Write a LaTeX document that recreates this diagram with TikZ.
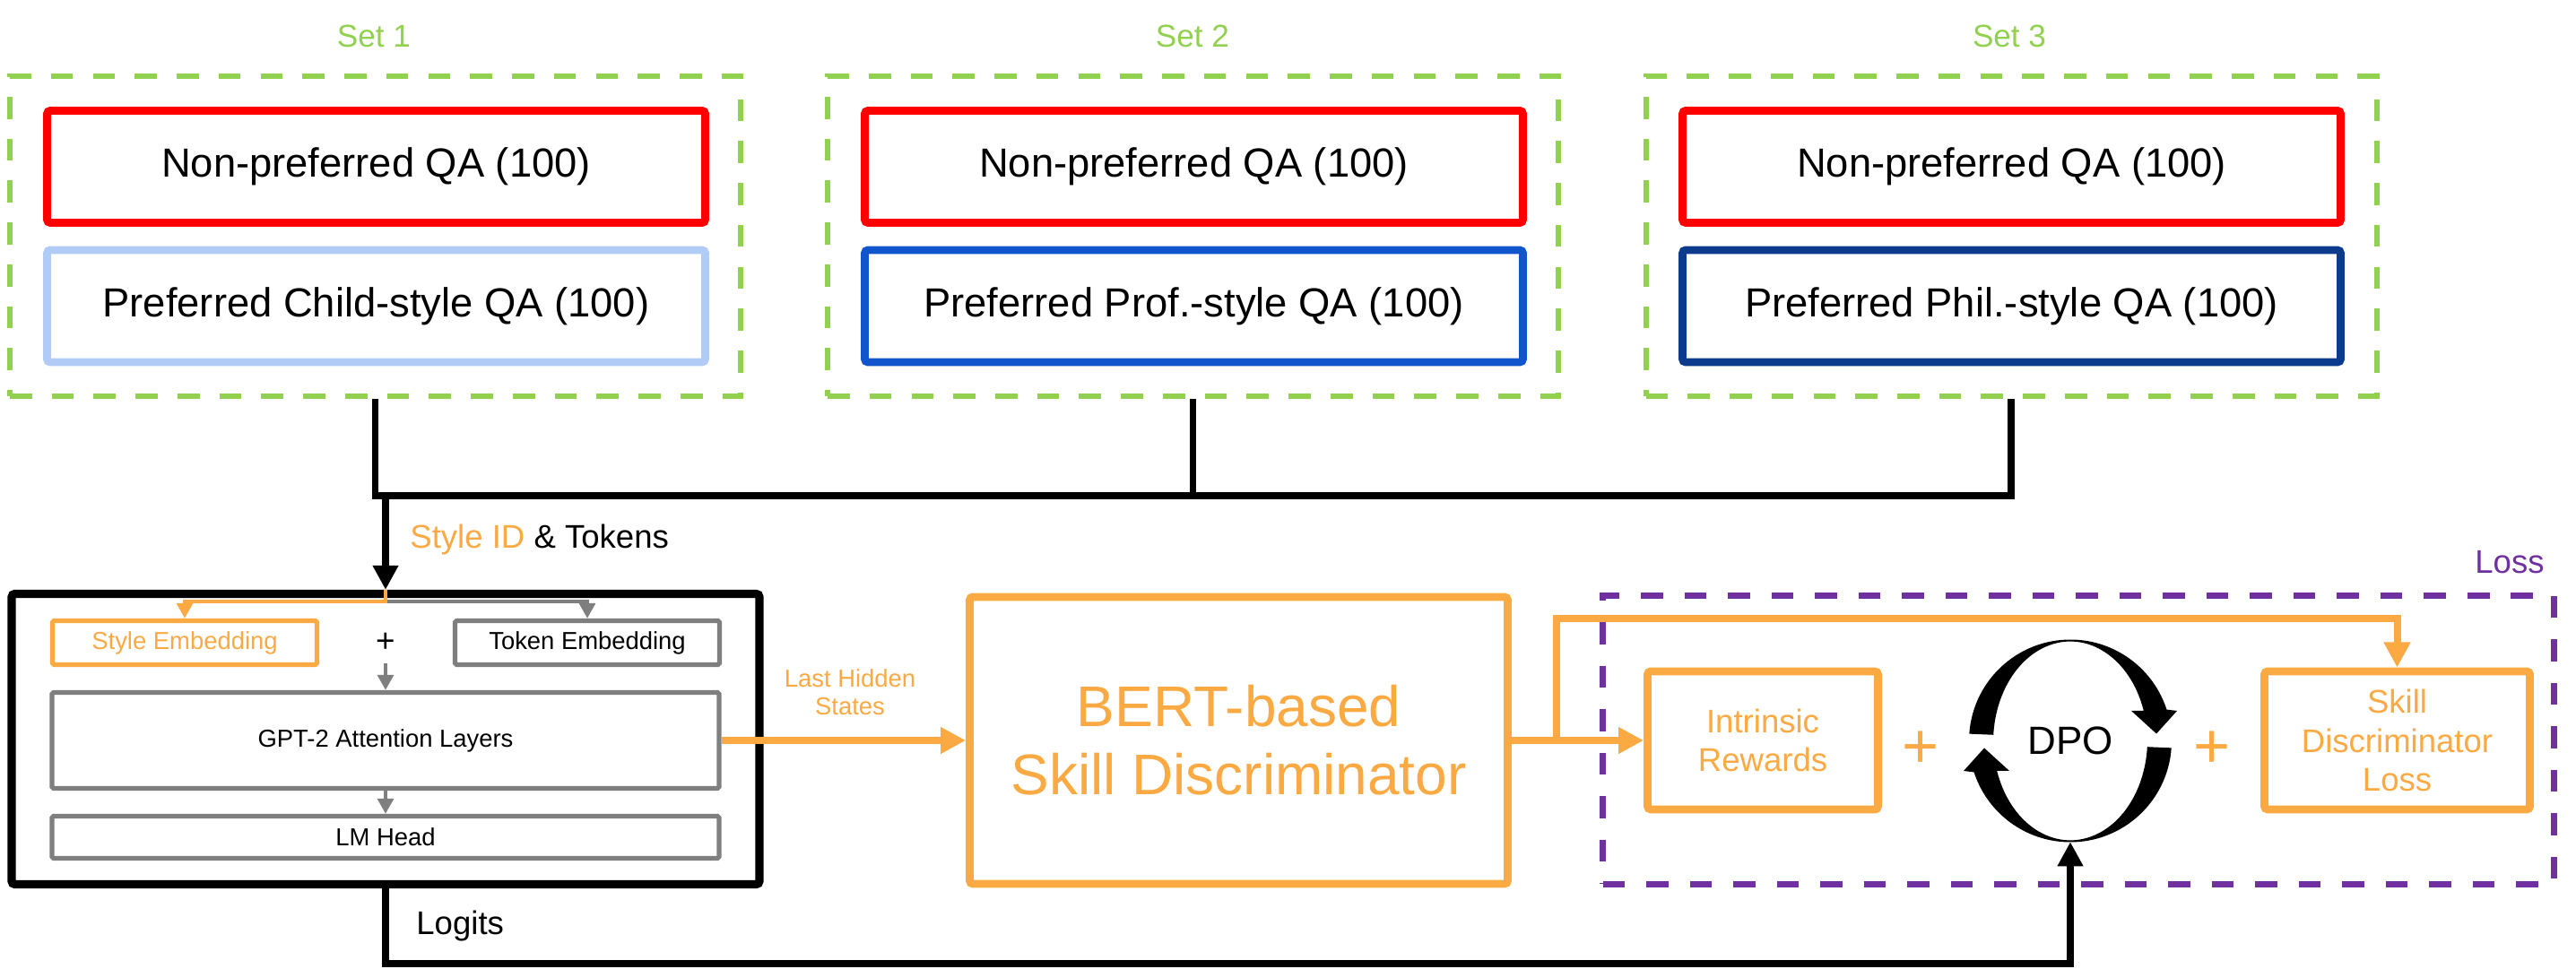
\documentclass[tikz,border=0pt]{standalone}
\usepackage{fontspec}
\setmainfont{Liberation Sans}
\usetikzlibrary{arrows.meta, positioning}

\definecolor{setgreen}{HTML}{92D050}
\definecolor{qared}{HTML}{FF0000}
\definecolor{childblue}{HTML}{B0CBF5}
\definecolor{profblue}{HTML}{1155CC}
\definecolor{philblue}{HTML}{0C3B8E}
\definecolor{skillorange}{HTML}{FBA943}
\definecolor{boxgray}{HTML}{7F7F7F}
\definecolor{losspurple}{HTML}{7030A0}

\newcommand{\sizeat}[2]{\fontsize{#1}{#2}\selectfont}

\begin{document}
\begin{tikzpicture}[
    setbox/.style={draw=setgreen, line width=1.7pt, dash pattern=on 7pt off 6.3pt, minimum width=8.15cm, minimum height=3.57cm},
    setlabel/.style={text=setgreen, font=\sizeat{10}{12}},
    qabox/.style={draw, line width=2.5pt, rounded corners=1pt, minimum width=7.34cm, minimum height=1.25cm, font=\sizeat{12.9}{15}},
    bus/.style={line width=2.1pt},
    blackin/.style={bus, -{Triangle[length=7.7pt,width=7.7pt]}},
    layer/.style={draw=boxgray, line width=1.5pt, rounded corners=0.5pt, minimum height=0.49cm, font=\sizeat{7.8}{9.4}},
    thinarrow/.style={line width=1.1pt, -{Triangle[length=4.8pt,width=5pt]}},
    orangebox/.style={draw=skillorange, line width=2.5pt, rounded corners=1pt, text=skillorange, align=center},
    flow/.style={draw=skillorange, line width=2.3pt, -{Triangle[length=8pt,width=8pt]}},
    midfont/.style={font=\sizeat{10.4}{12.4}},
    sumsign/.style={text=skillorange, font=\sizeat{20}{24}}
]
    \useasboundingbox (0,0) rectangle (28.73,-10.81);

    % Draw the three dashed sets and their labels
    \node[setbox] (set1) at (4.185,-2.635) {};
    \node[setbox] (set2) at (13.305,-2.635) {};
    \node[setbox] (set3) at (22.43,-2.635) {};
    \node[setlabel] (lab1) at (4.17,-0.40) {Set 1};
    \node[setlabel] (lab2) at (13.30,-0.40) {Set 2};
    \node[setlabel] (lab3) at (22.41,-0.40) {Set 3};

    % QA boxes inside each set
    \node[qabox, draw=qared] (neg1) at (4.195,-1.86) {Non-preferred QA (100)};
    \node[qabox, draw=childblue] (pos1) at (4.195,-3.415) {Preferred Child-style QA (100)};
    \node[qabox, draw=qared] (neg2) at (13.315,-1.86) {Non-preferred QA (100)};
    \node[qabox, draw=profblue] (pos2) at (13.315,-3.415) {Preferred Prof.-style QA (100)};
    \node[qabox, draw=qared] (neg3) at (22.435,-1.86) {Non-preferred QA (100)};
    \node[qabox, draw=philblue] (pos3) at (22.435,-3.415) {Preferred Phil.-style QA (100)};

    % Policy model block
    \node[draw, line width=2.6pt, rounded corners=1pt, minimum width=8.34cm, minimum height=3.24cm] (main) at (4.30,-8.245) {};
    \node[layer, draw=skillorange, text=skillorange, minimum width=2.95cm] (styleemb) at (2.06,-7.17) {Style Embedding};
    \node[layer, minimum width=2.95cm] (tokenemb) at (6.55,-7.17) {Token Embedding};
    \node[font=\sizeat{10.5}{12}] (plus) at (4.30,-7.17) {+};
    \node[layer, minimum width=7.44cm, minimum height=1.07cm] (gpt) at (4.30,-8.26) {GPT-2 Attention Layers};
    \node[layer, minimum width=7.44cm, minimum height=0.47cm] (lmhead) at (4.30,-9.34) {LM Head};

    % Collect the sets into the model
    \coordinate (bus) at (4.185,-5.53);
    \draw[bus] (set1.south) -- (bus) -| (set3.south);
    \draw[bus] (set2.south) -- (set2.south |- bus);
    \draw[blackin] (main.north |- bus) -- (main.north);
    \node[anchor=west, midfont] (sid) at (4.45,-6.02) {\textcolor{skillorange}{Style ID} \& Tokens};

    % Arrows inside the model
    \draw[thinarrow, boxgray] (main.north) ++(0,-0.13) -| (tokenemb.north);
    \draw[thinarrow, skillorange] (main.north) -- ++(0,-0.13) -| (styleemb.north);
    \draw[thinarrow, boxgray] (plus.south) -- (gpt.north);
    \draw[thinarrow, boxgray] (gpt.south) -- (lmhead.north);

    % Discriminator
    \node[orangebox, minimum width=6.0cm, minimum height=3.2cm, font=\sizeat{18.2}{21.6}] (bert) at (13.815,-8.26) {BERT-based\\Skill Discriminator};
    \draw[flow] (gpt.east) -- (bert.west);
    \node[text=skillorange, align=center, font=\sizeat{7.8}{8.8}] (lhs) at (9.48,-7.72) {Last Hidden\\States};

    % Loss frame
    \node[draw=losspurple, line width=2pt, dash pattern=on 7pt off 6.8pt, minimum width=10.61cm, minimum height=3.22cm] (lossbox) at (23.18,-8.255) {};
    \node[anchor=east, text=losspurple, midfont] (losslab) at (28.50,-6.27) {Loss};
    \node[orangebox, minimum width=2.57cm, minimum height=1.54cm, font=\sizeat{10.4}{12.2}] (intr) at (19.66,-8.26) {Intrinsic\\Rewards};
    \node[orangebox, minimum width=2.96cm, minimum height=1.54cm, font=\sizeat{10.4}{12.5}] (sdl) at (26.735,-8.26) {Skill\\Discriminator\\Loss};
    \node[circle, minimum size=2.24cm, font=\sizeat{12.5}{15}] (dpo) at (23.09,-8.265) {DPO};
    \node[sumsign] (plusA) at (21.415,-8.36) {+};
    \node[sumsign] (plusB) at (24.67,-8.36) {+};

    % DPO cycle arrows
    \begin{scope}[shift={(dpo.center)}]
        \fill (176:1.13) arc[start angle=176, end angle=18, radius=1.13] -- (1.19,0.335) -- (0.96,0.08) -- (0.68,0.335) -- (0.818,0.335) arc[start angle=18, end angle=176, x radius=0.86, y radius=1.12] -- cycle;
        \fill[rotate=180] (176:1.13) arc[start angle=176, end angle=18, radius=1.13] -- (1.19,0.335) -- (0.96,0.08) -- (0.68,0.335) -- (0.818,0.335) arc[start angle=18, end angle=176, x radius=0.86, y radius=1.12] -- cycle;
    \end{scope}

    % Discriminator outputs
    \coordinate (split) at (17.36,-8.26);
    \coordinate (bend) at (17.36,-6.90);
    \draw[flow] (bert.east) -- (intr.west);
    \draw[flow] (split) -- (bend) -| (sdl.north);

    % Logits into DPO
    \draw[blackin] (main.south) -- ++(0,-0.84) -| (dpo.south);
    \node[anchor=west, midfont] (logits) at (4.52,-10.33) {Logits};
\end{tikzpicture}
\end{document}
